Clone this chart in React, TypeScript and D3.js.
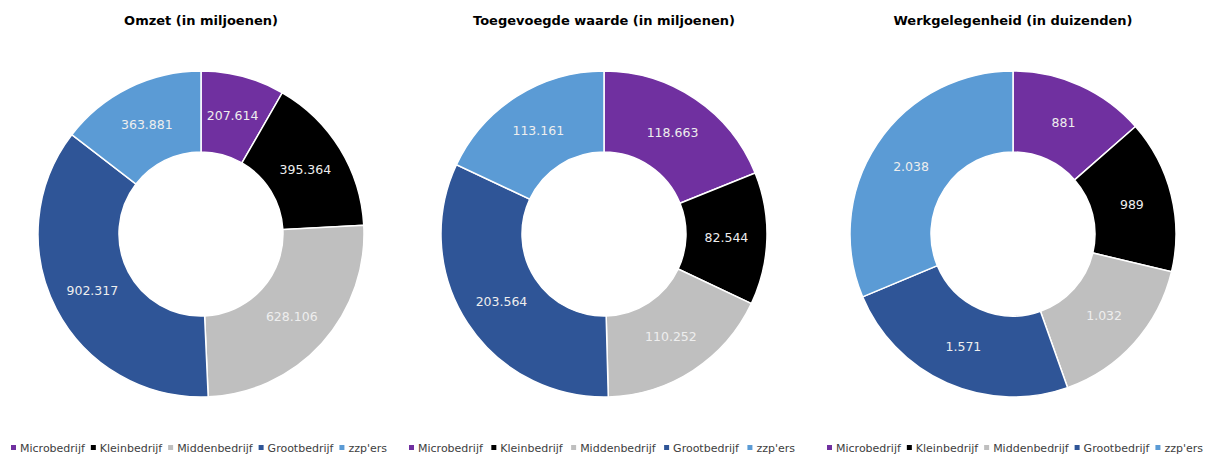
import React, { useEffect, useRef } from "react";
import * as d3 from "d3";

const categories = ["Microbedrijf", "Kleinbedrijf", "Middenbedrijf", "Grootbedrijf", "zzp'ers"];
const colors = ["#7030a0", "#000000", "#bfbfbf", "#2f5597", "#5b9bd5"];

const titles = ["Omzet (in miljoenen)", "Toegevoegde waarde (in miljoenen)", "Werkgelegenheid (in duizenden)"];
const omzet = [207614, 395364, 628106, 902317, 363881];
const toegevoegd = [118663, 82544, 110252, 203564, 113161];
const werk = [881, 989, 1032, 1571, 2038];
const series = [omzet, toegevoegd, werk];

const centersX = [201, 604, 1013];
const legendStartX = [11, 409, 827];
const legendSpan = [376, 386, 376];

const fmt = (v: number) => d3.format(",")(v).replace(/,/g, ".");

export default function App() {
  const ref = useRef<SVGSVGElement>(null);
  useEffect(() => {
    const svg = d3.select(ref.current);
    svg.selectAll("*").remove();
    const W = 1209, H = 456;
    const cy = 234, R = 163, r0 = 82;
    const font = "DejaVu Sans, Verdana, sans-serif";

    series.forEach((vals, i) => {
      const g = svg.append("g").attr("transform", `translate(${centersX[i]},${cy})`);
      const pie = d3.pie<number>().sort(null).value((d) => d)(vals);
      const arc = d3.arc<d3.PieArcDatum<number>>().innerRadius(r0).outerRadius(R);
      g.selectAll("path.s")
        .data(pie)
        .enter()
        .append("path")
        .attr("d", arc as any)
        .attr("fill", (_, j) => colors[j])
        .attr("stroke", "#ffffff")
        .attr("stroke-width", 1.5);
      g.selectAll("text.l")
        .data(pie)
        .enter()
        .append("text")
        .attr("x", (d) => arc.centroid(d)[0])
        .attr("y", (d) => arc.centroid(d)[1])
        .attr("text-anchor", "middle")
        .attr("dominant-baseline", "central")
        .attr("font-family", font)
        .attr("font-size", 12.5)
        .attr("fill", "#eeeeee")
        .text((d) => fmt(d.data));

      svg
        .append("text")
        .attr("x", centersX[i])
        .attr("y", 25)
        .attr("text-anchor", "middle")
        .attr("font-family", font)
        .attr("font-weight", "bold")
        .attr("font-size", 13)
        .attr("fill", "#000")
        .text(titles[i]);

      // legend
      const ly = 448;
      const lg = svg.append("g");
      const texts = categories.map((c) =>
        lg
          .append("text")
          .attr("y", ly)
          .attr("dominant-baseline", "central")
          .attr("font-family", font)
          .attr("font-size", 11)
          .attr("fill", "#404040")
          .text(c)
      );
      const widths = texts.map((t) => (t.node() as SVGTextElement).getComputedTextLength());
      const natural = d3.sum(widths) + 9 * categories.length;
      const gap = (legendSpan[i] - natural) / (categories.length - 1);
      let x = legendStartX[i];
      categories.forEach((c, j) => {
        lg.append("rect")
          .attr("x", x)
          .attr("y", ly - 3)
          .attr("width", 5)
          .attr("height", 5)
          .attr("fill", colors[j]);
        texts[j].attr("x", x + 9);
        x += 9 + widths[j] + gap;
      });
    });
    svg.attr("width", W).attr("height", H);
  }, []);
  return (
    <svg
      ref={ref}
      width={1209}
      height={456}
      style={{ position: "absolute", left: 0, top: 0, background: "#fff" }}
    />
  );
}
